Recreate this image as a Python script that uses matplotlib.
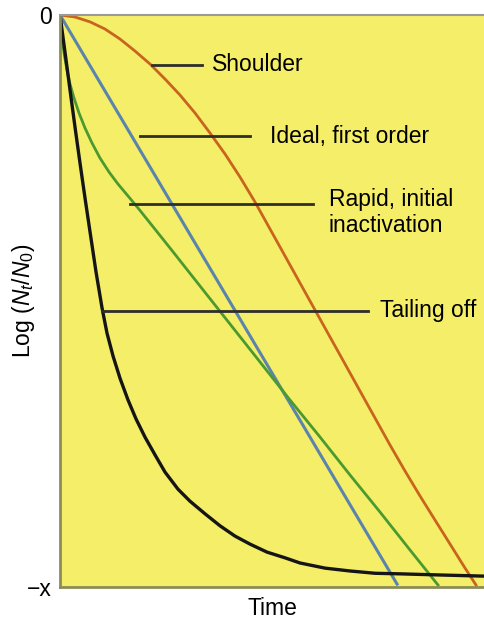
import numpy as np
import matplotlib
matplotlib.use('Agg')
import matplotlib.pyplot as plt

plt.rcParams['font.family'] = ['Liberation Sans', 'DejaVu Sans']
plt.rcParams['mathtext.fontset'] = 'custom'
plt.rcParams['mathtext.rm'] = 'Liberation Sans'
plt.rcParams['mathtext.it'] = 'Liberation Sans:italic'

# survival curves, time 0..100, log(Nt/N0) 0 .. -10 (= "-x")
ideal_t = [0, 79.5]
ideal_y = [0, -9.95]

shoulder_t = [0, 3.54, 7.08, 10.61, 14.15, 17.69, 21.23, 24.76, 28.30, 31.84, 35.38,
              38.92, 42.45, 45.99, 49.53, 53.07, 56.60, 60.14, 63.68, 67.22, 70.75,
              74.29, 77.83, 81.37, 84.91, 88.44, 91.98, 95.52, 98.11]
shoulder_y = [0, -0.035, -0.12, -0.245, -0.42, -0.63, -0.857, -1.119, -1.399, -1.713,
              -2.063, -2.430, -2.832, -3.269, -3.741, -4.213, -4.685, -5.157, -5.629,
              -6.101, -6.573, -7.045, -7.517, -7.972, -8.409, -8.829, -9.248, -9.668, -9.965]

rapid_t = [0, 0.236, 0.59, 1.06, 1.65, 2.36, 3.30, 4.48, 5.90, 7.55, 9.43, 11.56, 13.68,
           16.04, 18.40, 21.23, 25.94, 33.02, 40.09, 47.17, 54.25, 61.32, 68.40, 75.47,
           82.55, 89.15]
rapid_y = [0, -0.227, -0.472, -0.717, -0.962, -1.206, -1.451, -1.713, -1.976, -2.238,
           -2.500, -2.745, -2.955, -3.164, -3.374, -3.636, -4.073, -4.738, -5.402, -6.066,
           -6.731, -7.378, -8.042, -8.689, -9.353, -9.965]

tail_t = [0, 1.18, 2.36, 3.54, 4.72, 5.90, 7.08, 8.49, 9.91, 11.08, 12.50, 14.15, 16.04,
          17.92, 20.05, 22.41, 24.76, 27.83, 30.66, 34.20, 37.74, 41.27, 44.81, 48.82,
          53.07, 56.60, 62.50, 68.40, 74.29, 80.19, 89.62, 100]
tail_y = [0, -0.65, -1.31, -1.96, -2.59, -3.20, -3.79, -4.49, -5.12, -5.56, -5.96, -6.35,
          -6.73, -7.06, -7.38, -7.69, -7.99, -8.29, -8.50, -8.72, -8.93, -9.11, -9.25,
          -9.39, -9.49, -9.58, -9.67, -9.72, -9.76, -9.77, -9.79, -9.81]

# labels with their pointer lines (x start, x end, y)
labels = ['Shoulder', 'Ideal, first order', 'Rapid, initial\ninactivation', 'Tailing off']
ptr_x0 = [21.7, 18.9, 16.5, 9.9]
ptr_x1 = [33.5, 44.8, 59.7, 72.6]
ptr_y = [-0.87, -2.12, -3.30, -5.17]
lab_x = [35.8, 49.5, 63.4, 75.5]
lab_y = [-0.87, -2.12, -3.45, -5.17]

fig = plt.figure(figsize=(4.84, 6.2), dpi=100)
ax = fig.add_axes([60/484, 33/620, 424/484, 572/620])
ax.set_facecolor('#f5ee68')

ax.plot(shoulder_t, shoulder_y, color='#c8641e', lw=2)
ax.plot(ideal_t, ideal_y, color='#5b84ad', lw=2.2)
ax.plot(rapid_t, rapid_y, color='#4a9a30', lw=2)
ax.plot(tail_t, tail_y, color='#151515', lw=2.4)

for i in range(len(labels)):
    ax.plot([ptr_x0[i], ptr_x1[i]], [ptr_y[i], ptr_y[i]], color='#2e2e2a', lw=2)
    ax.text(lab_x[i], lab_y[i], labels[i], fontsize=16.5, va='center', ha='left',
            linespacing=1.15)

ax.set_xlim(0, 100)
ax.set_ylim(-10, 0)
ax.set_xticks([])
ax.set_yticks([0, -10])
ax.set_yticklabels(['0', '\u2212x'], fontsize=16.5)
ax.tick_params(axis='y', length=0, pad=6)
ax.set_xlabel('Time', fontsize=16.5, labelpad=7)
ax.set_ylabel(r'Log ($N_t$/$N_0$)', fontsize=16.5)
ax.yaxis.set_label_coords(-0.054, 0.5)

for s in ['left', 'bottom']:
    ax.spines[s].set_color('#8c8c58')
    ax.spines[s].set_linewidth(2)
ax.spines['top'].set_color('#9a9a9a')
ax.spines['top'].set_linewidth(1.5)
ax.spines['right'].set_visible(False)

fig.savefig('out.png', dpi=100)
plt.close('all')
